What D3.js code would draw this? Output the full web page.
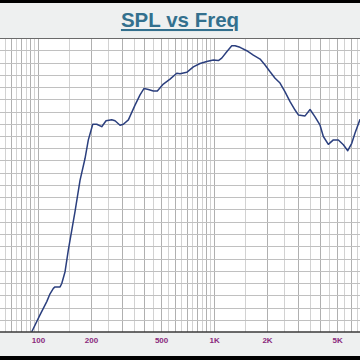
<!DOCTYPE html>
<html>
<head>
<meta charset="utf-8">
<script src="https://cdn.jsdelivr.net/npm/d3@7"></script>
<style>
html,body{margin:0;padding:0;background:#000;}
svg{display:block;}
</style>
</head>
<body>
<script>
// ---- data ----
const title = "SPL vs Freq";
const freqHz = [92,102.6,112.1,117,122.2,124.9,133.4,136.4,142.4,148.6,162.3,173.3,184.9,193.1,204.6,215.6,230.1,243.4,262.3,273.8,292.4,305.3,326.1,355.7,379.8,400.4,423.4,452,476.3,515.1,562.3,614,641,699.7,762.8,832.6,908.9,990.9,1058,1106,1181,1261,1316,1405,1534,1672,1826,1949,2081,2222,2371,2532,2703,2886,3013,3289,3512,3749,4003,4178,4461,4763,5085,5429,5751,6059,6326,6753];
const splDb = [40,43.5,46.2,47.8,48.9,49.2,49.2,49.9,52.3,56.7,64.6,71,75.4,79.2,82.4,82.4,81.9,83.1,83.3,83.1,82.2,82.4,83.3,86.3,88.4,89.7,89.5,89.2,89.2,90.6,91.6,92.8,92.7,93,94.1,94.8,95.2,95.5,95.4,95.9,97.2,98.4,98.4,98.1,97.4,96.5,95.7,94.5,93.1,91.8,90.8,89,87,85.3,84.3,84.1,85.4,83.9,82.2,79.9,78.3,79.2,79.2,78.2,77,78.5,80.6,83.4];
const tickValues = [100,200,500,1000,2000,5000];
const tickLabels = ["100","200","500","1K","2K","5K"];
const freqDomain = [60.8,6750];
const dbDomain = [40,100];
const dbGridStep = 2.5;

// ---- layout ----
const W = 360, H = 360;
const plot = {top:38, bottom:332, left:0, right:360};

const svg = d3.select("body").append("svg").attr("width",W).attr("height",H);
svg.append("rect").attr("width",W).attr("height",H).attr("fill","#000");
svg.append("rect").attr("x",0).attr("y",3).attr("width",W).attr("height",353).attr("fill","#eef0f0");

const x = d3.scaleLog().domain(freqDomain).range([plot.left,plot.right]);
const y = d3.scaleLinear().domain(dbDomain).range([plot.bottom,plot.top]);

const g = svg.append("g");
g.append("rect").attr("x",plot.left).attr("y",plot.top).attr("width",plot.right-plot.left).attr("height",plot.bottom-plot.top).attr("fill","#fff");

// vertical grid: half-steps of each decade
const vGrid = [];
[10,100,1000].forEach(dec=>{
  for(let k=2;k<20;k++){
    const f = dec*k/2;
    if(f>=freqDomain[0] && f<=freqDomain[1]) vGrid.push({f, major:k%2===0});
  }
});
g.selectAll("line.vg").data(vGrid).join("line")
  .attr("x1",d=>Math.round(x(d.f))+0.5).attr("x2",d=>Math.round(x(d.f))+0.5)
  .attr("y1",plot.top).attr("y2",plot.bottom)
  .attr("stroke",d=>d.major?"#b0b0b0":"#d2d2d2").attr("stroke-width",1);

// horizontal grid
const hGrid = d3.range(dbDomain[0]+dbGridStep, dbDomain[1], dbGridStep);
g.selectAll("line.hg").data(hGrid).join("line")
  .attr("x1",plot.left).attr("x2",plot.right)
  .attr("y1",d=>Math.round(y(d))+0.5).attr("y2",d=>Math.round(y(d))+0.5)
  .attr("stroke","#c0c0c0").attr("stroke-width",1);

// top border
g.append("line").attr("x1",0).attr("x2",W).attr("y1",plot.top+0.5).attr("y2",plot.top+0.5).attr("stroke","#6a6a6a").attr("stroke-width",1);

// curve
svg.append("clipPath").attr("id","pc").append("rect")
  .attr("x",plot.left).attr("y",plot.top).attr("width",plot.right-plot.left).attr("height",plot.bottom-plot.top);
const line = d3.line().x((d,i)=>x(freqHz[i])).y(d=>y(d));
g.append("path").datum(splDb).attr("d",line).attr("fill","none")
  .attr("stroke","#2b3f7e").attr("stroke-width",1.5).attr("stroke-linejoin","round").attr("clip-path","url(#pc)");

// bottom axis
const axis = d3.axisBottom(x).tickValues(tickValues).tickFormat((d,i)=>tickLabels[i]).tickSize(0).tickPadding(5);
const ax = svg.append("g").attr("transform",`translate(0,${plot.bottom})`).call(axis);
ax.select(".domain").attr("stroke","#3a3a3a").attr("stroke-width",1.5).attr("d",`M0,0H${W}`);
ax.selectAll("text").attr("fill","#8a2a7c").attr("font-family","Liberation Sans, Arial, sans-serif")
  .attr("font-size",8).attr("font-weight","bold");

// title
svg.append("text").attr("x",180).attr("y",27).attr("text-anchor","middle")
  .attr("font-family","Liberation Sans, Arial, sans-serif").attr("font-weight","bold")
  .attr("font-size",20.5).attr("fill","#33708e").attr("text-decoration","underline").text(title);
</script>
</body>
</html>
